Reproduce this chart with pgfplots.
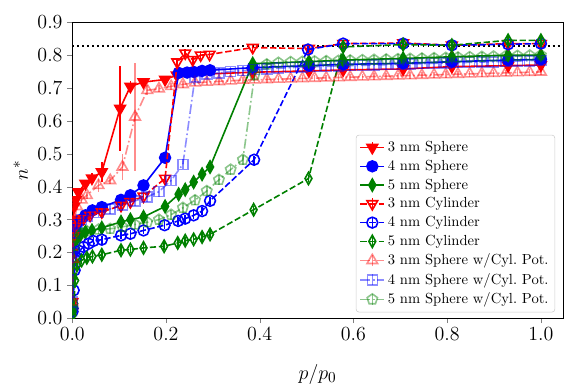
\documentclass[border=0pt]{standalone}
\usepackage{pgfplots}
\pgfplotsset{compat=1.18}
\usetikzlibrary{plotmarks}
\definecolor{mgreen}{rgb}{0,0.5,0}
\begin{document}
\begin{tikzpicture}
\begin{axis}[
  scale only axis, width=353pt, height=213pt,
  xmin=0, xmax=1.047, ymin=0, ymax=0.9,
  xtick={0,0.2,0.4,0.6,0.8,1.0},
  ytick={0,0.1,0.2,0.3,0.4,0.5,0.6,0.7,0.8,0.9},
  xtick pos=bottom, ytick pos=left, tick align=outside,
  major tick length=3.5pt,
  /pgf/number format/.cd, fixed, fixed zerofill, precision=1, /pgfplots/.cd,
  tick label style={font=\fontsize{13.5}{15}\selectfont},
  label style={font=\fontsize{15}{17}\selectfont},
  xlabel={$p/p_0$}, ylabel={$n^*$},
  xlabel style={yshift=-10pt}, ylabel style={yshift=0pt},
  clip marker paths=true,
  legend style={at={(0.984,0.02)}, anchor=south east, draw=black!20, rounded corners=2pt,
    font=\fontsize{10.5}{12.5}\selectfont, row sep=0.6pt, inner sep=2.5pt},
  legend cell align=left,
  legend image code/.code={
    \draw[#1] (0cm,0cm) -- (0.6cm,0cm);
    \draw[#1,solid] (0.3cm,-0.14cm) -- (0.3cm,0.14cm);
    \draw[#1] plot coordinates {(0.3cm,0cm)};
  },
  every axis plot/.append style={line width=1.15pt},
  error bars/error bar style={line width=1.15pt, solid},
]
% reference line
\addplot[black, line width=1.4pt, dash pattern=on 1.4pt off 2.2pt, forget plot] coordinates {(0,0.827)(1.047,0.827)};

% 3 nm Sphere
\addplot[red, mark=triangle*, mark size=4.4pt, mark options={rotate=180, solid, fill=red},
  error bars/.cd, y dir=both, y explicit, error mark=none] coordinates {
(0.0005,0.02)+-(0,0)(0.001,0.25)+-(0,0)(0.002,0.30)+-(0,0)(0.004,0.34)+-(0,0)(0.007,0.36)+-(0,0.01)
(0.013,0.384)+-(0,0.01)(0.028,0.41)+-(0,0.01)(0.042,0.426)+-(0,0.015)(0.063,0.445)+-(0,0.03)
(0.102,0.638)+-(0,0.13)(0.124,0.705)+-(0,0.015)(0.152,0.718)+-(0,0.01)(0.198,0.726)+-(0,0.01)
(0.223,0.739)+-(0,0.01)(0.385,0.748)+-(0,0.01)(0.505,0.752)+-(0,0.01)(0.578,0.755)+-(0,0.01)
(0.706,0.758)+-(0,0.01)(0.81,0.765)+-(0,0.01)(0.93,0.768)+-(0,0.01)(1.0,0.77)+-(0,0.01)};
\addlegendentry{3 nm Sphere}

% 4 nm Sphere
\addplot[blue, mark=*, mark size=3.9pt, mark options={solid, fill=blue},
  error bars/.cd, y dir=both, y fixed=0.015, error mark=none] coordinates {
(0.0005,0.03)(0.001,0.2)(0.003,0.25)(0.007,0.28)(0.017,0.298)(0.028,0.313)(0.043,0.328)
(0.063,0.338)(0.104,0.36)(0.124,0.374)(0.152,0.404)(0.198,0.488)(0.227,0.746)(0.245,0.747)
(0.259,0.749)(0.277,0.752)(0.294,0.754)(0.385,0.762)(0.505,0.768)(0.578,0.772)(0.706,0.775)
(0.81,0.78)(0.93,0.785)(1.0,0.787)};
\addlegendentry{4 nm Sphere}

% 5 nm Sphere
\addplot[mgreen, mark=diamond*, mark size=4.4pt, mark options={solid, fill=mgreen, xscale=0.75},
  error bars/.cd, y dir=both, y fixed=0.015, error mark=none] coordinates {
(0.0005,0.02)(0.001,0.12)(0.003,0.2)(0.007,0.235)(0.017,0.252)(0.028,0.262)(0.042,0.267)
(0.063,0.275)(0.104,0.293)(0.124,0.30)(0.152,0.308)(0.198,0.34)(0.227,0.377)(0.241,0.391)
(0.259,0.414)(0.277,0.438)(0.294,0.46)(0.385,0.774)(0.505,0.78)(0.578,0.785)(0.706,0.79)
(0.81,0.795)(0.93,0.80)(1.0,0.80)};
\addlegendentry{5 nm Sphere}

% 3 nm Cylinder
\addplot[red, dash pattern=on 4.5pt off 2pt, mark=triangle, mark size=4.4pt, mark options={rotate=180, solid},
  error bars/.cd, y dir=both, y fixed=0.012, error mark=none] coordinates {
(0.0005,0.05)(0.001,0.2)(0.003,0.25)(0.007,0.28)(0.013,0.295)(0.024,0.303)(0.038,0.313)
(0.063,0.323)(0.104,0.343)(0.124,0.354)(0.152,0.371)(0.198,0.425)(0.224,0.779)(0.241,0.806)
(0.257,0.786)(0.274,0.80)(0.293,0.802)(0.385,0.823)(0.505,0.82)(0.578,0.835)(0.706,0.837)
(0.81,0.83)(0.93,0.835)(1.0,0.835)};
\addlegendentry{3 nm Cylinder}

% 4 nm Cylinder
\addplot[blue, dash pattern=on 4.5pt off 2pt, mark=o, mark size=3.9pt, mark options={solid},
  error bars/.cd, y dir=both, y fixed=0.012, error mark=none] coordinates {
(0.0005,0.02)(0.003,0.085)(0.005,0.146)(0.008,0.186)(0.015,0.205)(0.024,0.217)(0.035,0.227)
(0.045,0.235)(0.063,0.239)(0.104,0.252)(0.124,0.257)(0.152,0.267)(0.197,0.283)(0.226,0.296)
(0.241,0.303)(0.259,0.313)(0.277,0.326)(0.294,0.357)(0.388,0.482)(0.503,0.817)(0.578,0.835)
(0.706,0.835)(0.81,0.83)(0.93,0.833)(1.0,0.835)};
\addlegendentry{4 nm Cylinder}

% 5 nm Cylinder
\addplot[mgreen, dash pattern=on 4.5pt off 2pt, mark=diamond, mark size=4.4pt, mark options={solid, xscale=0.75},
  error bars/.cd, y dir=both, y fixed=0.012, error mark=none] coordinates {
(0.0005,0.01)(0.004,0.045)(0.006,0.115)(0.01,0.161)(0.02,0.176)(0.031,0.184)(0.043,0.188)
(0.063,0.193)(0.104,0.207)(0.124,0.209)(0.152,0.214)(0.196,0.219)(0.225,0.229)(0.241,0.236)
(0.259,0.24)(0.277,0.247)(0.294,0.255)(0.387,0.33)(0.504,0.425)(0.578,0.825)(0.706,0.832)
(0.81,0.83)(0.93,0.845)(1.0,0.845)};
\addlegendentry{5 nm Cylinder}

% 3 nm Sphere w/Cyl. Pot.
\addplot[red, opacity=0.45, dash pattern=on 7pt off 2pt on 1.2pt off 2pt, mark=triangle, mark size=4.4pt, mark options={solid},
  error bars/.cd, y dir=both, y explicit, error mark=none] coordinates {
(0.0005,0.05)+-(0,0)(0.002,0.18)+-(0,0)(0.005,0.30)+-(0,0.01)(0.01,0.34)+-(0,0.01)(0.02,0.36)+-(0,0.01)
(0.031,0.374)+-(0,0.01)(0.056,0.404)+-(0,0.02)(0.081,0.419)+-(0,0.01)(0.107,0.46)+-(0,0.04)
(0.134,0.612)+-(0,0.165)(0.160,0.693)+-(0,0.015)(0.185,0.698)+-(0,0.01)(0.211,0.705)+-(0,0.01)
(0.236,0.711)+-(0,0.01)(0.262,0.716)+-(0,0.01)(0.287,0.718)+-(0,0.01)(0.313,0.72)+-(0,0.01)
(0.338,0.722)+-(0,0.01)(0.364,0.724)+-(0,0.01)(0.389,0.725)+-(0,0.01)(0.415,0.726)+-(0,0.01)
(0.440,0.727)+-(0,0.01)(0.466,0.728)+-(0,0.01)(0.491,0.729)+-(0,0.01)(0.517,0.73)+-(0,0.01)
(0.542,0.731)+-(0,0.01)(0.568,0.732)+-(0,0.01)(0.593,0.733)+-(0,0.01)(0.619,0.734)+-(0,0.01)
(0.644,0.735)+-(0,0.01)(0.670,0.736)+-(0,0.01)(0.695,0.737)+-(0,0.01)(0.721,0.738)+-(0,0.01)
(0.746,0.739)+-(0,0.01)(0.772,0.740)+-(0,0.01)(0.797,0.741)+-(0,0.01)(0.823,0.742)+-(0,0.01)
(0.848,0.743)+-(0,0.01)(0.874,0.744)+-(0,0.01)(0.899,0.745)+-(0,0.01)(0.925,0.746)+-(0,0.01)
(0.950,0.747)+-(0,0.01)(0.976,0.748)+-(0,0.01)(1.0,0.749)+-(0,0.01)};
\addlegendentry{3 nm Sphere w/Cyl.\ Pot.}

% 4 nm Sphere w/Cyl. Pot.
\addplot[blue, opacity=0.45, dash pattern=on 7pt off 2pt on 1.2pt off 2pt, mark=square, mark size=3.6pt, mark options={solid},
  error bars/.cd, y dir=both, y fixed=0.015, error mark=none] coordinates {
(0.0005,0.05)(0.002,0.2)(0.005,0.26)(0.01,0.285)(0.02,0.30)(0.031,0.31)(0.056,0.322)
(0.081,0.332)(0.107,0.345)(0.134,0.357)(0.160,0.369)(0.185,0.385)(0.211,0.419)(0.236,0.468)
(0.262,0.733)(0.287,0.742)(0.313,0.746)(0.338,0.750)(0.364,0.753)(0.389,0.756)(0.415,0.758)
(0.440,0.760)(0.466,0.762)(0.491,0.764)(0.517,0.765)(0.542,0.766)(0.568,0.767)(0.593,0.768)
(0.619,0.769)(0.644,0.770)(0.670,0.771)(0.695,0.772)(0.721,0.773)(0.746,0.774)(0.772,0.775)
(0.797,0.776)(0.823,0.777)(0.848,0.778)(0.874,0.779)(0.899,0.780)(0.925,0.781)(0.950,0.782)
(0.976,0.783)(1.0,0.784)};
\addlegendentry{4 nm Sphere w/Cyl.\ Pot.}

% 5 nm Sphere w/Cyl. Pot.
\addplot[mgreen, opacity=0.45, dash pattern=on 7pt off 2pt on 1.2pt off 2pt, mark=pentagon, mark size=3.9pt, mark options={solid},
  error bars/.cd, y dir=both, y fixed=0.015, error mark=none] coordinates {
(0.0005,0.03)(0.002,0.15)(0.005,0.22)(0.01,0.245)(0.02,0.258)(0.031,0.265)(0.056,0.27)
(0.081,0.272)(0.107,0.278)(0.134,0.285)(0.160,0.292)(0.185,0.30)(0.211,0.315)(0.236,0.336)
(0.262,0.359)(0.287,0.387)(0.313,0.421)(0.338,0.452)(0.364,0.482)(0.389,0.74)(0.415,0.772)
(0.440,0.777)(0.466,0.779)(0.491,0.780)(0.517,0.781)(0.542,0.782)(0.568,0.783)(0.593,0.784)
(0.619,0.785)(0.644,0.786)(0.670,0.787)(0.695,0.788)(0.721,0.789)(0.746,0.790)(0.772,0.791)
(0.797,0.792)(0.823,0.793)(0.848,0.794)(0.874,0.795)(0.899,0.796)(0.925,0.797)(0.950,0.798)
(0.976,0.799)(1.0,0.800)};
\addlegendentry{5 nm Sphere w/Cyl.\ Pot.}
\end{axis}
\path (current axis.south west) ++(-52pt,-50pt);
\path (current axis.north east) ++(13pt,16pt);
\end{tikzpicture}
\end{document}
